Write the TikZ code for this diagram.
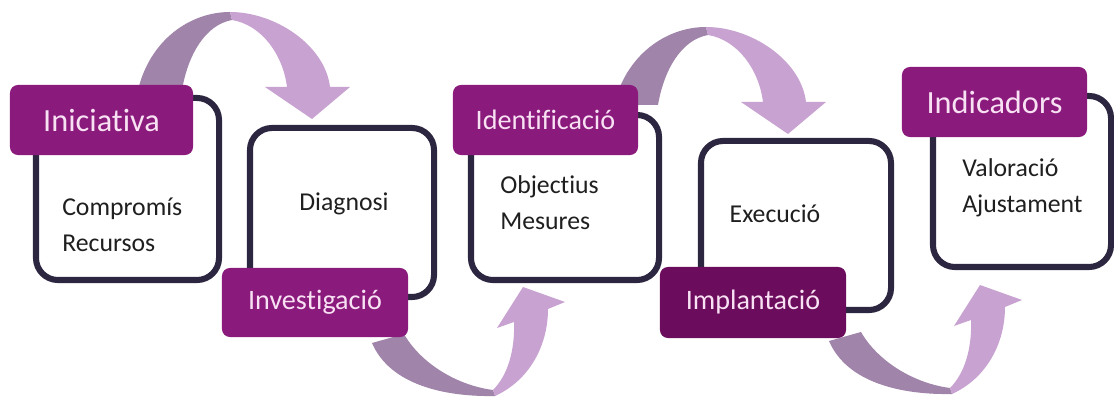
\documentclass[tikz,border=0pt]{standalone}
\usepackage{fontspec}
\setmainfont{Carlito}[Ligatures={NoCommon}]
\definecolor{arrowdark}{HTML}{A084A9}
\definecolor{arrowlight}{HTML}{C8A2D1}
\definecolor{boxline}{HTML}{2D2640}
\definecolor{labelfill}{HTML}{8A1A7C}
\definecolor{labeldark}{HTML}{6C0C5C}
\definecolor{labeltext}{HTML}{F8E1F3}
\begin{document}
\begin{tikzpicture}[x=0.025cm, y=-0.025cm,
    bodytext/.style={align=left, inner sep=0, text=black!88, font=\fontsize{18.3}{25.6}\selectfont}]
  \useasboundingbox (0,0) rectangle (1114,405);
  % arrows over the top
  \begin{scope}
    \fill[arrowdark] (138,90) .. controls (150,40) and (190,12) .. (230,12) -- (232,20) .. controls (205,25) and (188,55) .. (182,90) -- cycle;
    \fill[arrowlight] (230,12) .. controls (275,12) and (325,45) .. (330,87) -- (350,87) -- (312,119) -- (265,87) -- (287,87) .. controls (283,55) and (262,25) .. (232,20) -- cycle;
  \end{scope}
  \begin{scope}[shift={(476,15)}]
    \fill[arrowdark] (138,90) .. controls (150,40) and (190,12) .. (230,12) -- (232,20) .. controls (205,25) and (188,55) .. (182,90) -- cycle;
    \fill[arrowlight] (230,12) .. controls (275,12) and (325,45) .. (330,87) -- (350,87) -- (312,119) -- (265,87) -- (287,87) .. controls (283,55) and (262,25) .. (232,20) -- cycle;
  \end{scope}
  % arrows underneath
  \begin{scope}
    \fill[arrowdark] (372,343) .. controls (390,385) and (445,397) .. (495,396) -- (493,390) .. controls (455,385) and (420,362) .. (404,334) -- cycle;
    \fill[arrowlight] (493,390) .. controls (508,375) and (515,350) .. (514,322) -- (497,328) -- (523,287) -- (565,302) -- (548,309) .. controls (548,345) and (530,380) .. (495,396) -- cycle;
  \end{scope}
  \begin{scope}[shift={(457,-2)}]
    \fill[arrowdark] (372,343) .. controls (390,385) and (445,397) .. (495,396) -- (493,390) .. controls (455,385) and (420,362) .. (404,334) -- cycle;
    \fill[arrowlight] (493,390) .. controls (508,375) and (515,350) .. (514,322) -- (497,328) -- (523,287) -- (565,302) -- (548,309) .. controls (548,345) and (530,380) .. (495,396) -- cycle;
  \end{scope}
  \begin{scope}[every node/.style={draw=boxline, line width=4.3pt, fill=white, rounded corners=0.55cm, inner sep=0}]
    \node[minimum width=4.575cm, minimum height=4.55cm] (box1) at (127.5,189) {};
    \node[minimum width=4.6cm, minimum height=4.225cm] (box2) at (342,212.5) {};
    \node[minimum width=4.7cm, minimum height=4.125cm] (box3) at (565,197.5) {};
    \node[minimum width=4.75cm, minimum height=4.225cm] (box4) at (796,225.5) {};
    \node[minimum width=4.45cm, minimum height=4.275cm] (box5) at (1022,181.5) {};
  \end{scope}
  \begin{scope}[every node/.style={fill=labelfill, text=labeltext, rounded corners=0.2cm, inner sep=0, minimum width=4.625cm, minimum height=1.75cm, font=\fontsize{20}{24}\selectfont}]
    \node[minimum width=4.575cm, font=\fontsize{23}{27}\selectfont] (lab1) at (101.5,120) {Iniciativa};
    \node[minimum width=4.65cm, minimum height=1.725cm] (lab2) at (315,302.5) {Investigació};
    \node (lab3) at (545.5,120) {Identificació};
    \node[fill=labeldark, minimum width=4.65cm, minimum height=1.775cm] (lab4) at (753,302.5) {Implantació};
    \node[font=\fontsize{23}{27}\selectfont] (lab5) at (994.5,102) {Indicadors};
  \end{scope}
  \node[bodytext, anchor=base west] (txt1) at (62,252) {Compromís\\Recursos};
  \node[bodytext, anchor=base] (txt2) at (344,211) {Diagnosi};
  \node[bodytext, anchor=base west] (txt3) at (500,230) {Objectius\\Mesures};
  \node[bodytext, anchor=base] (txt4) at (775,223) {Execució};
  \node[bodytext, anchor=base west] (txt5) at (962,213) {Valoració\\Ajustament};
\end{tikzpicture}
\end{document}
